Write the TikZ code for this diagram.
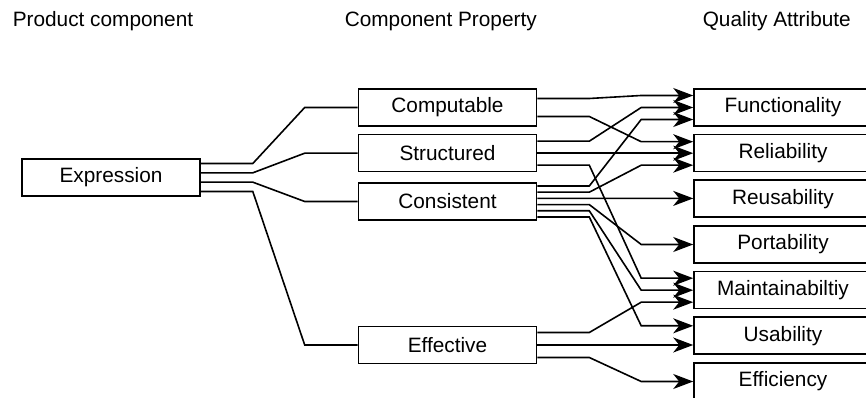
\documentclass[tikz,border=0pt]{standalone}
\usepackage{fontspec}
\setmainfont{Liberation Sans}
\usetikzlibrary{arrows.meta}

\begin{document}
\begin{tikzpicture}[x=1pt,y=1pt,line width=1.6pt,
	box/.style={draw,rectangle,minimum width=178pt,minimum height=37pt,inner sep=0pt,font=\fontsize{20.8}{24}\selectfont},
	heading/.style={anchor=base west,inner sep=0pt,font=\fontsize{20.8}{24}\selectfont},
	arr/.style={-{Stealth[length=20pt,width=15pt,inset=6pt]}}]
	\clip (0,0) rectangle (866,398);
	% headings
	\node[heading] (hprod) at (12,371) {Product component};
	\node[heading] (hprop) at (344,371) {Component Property};
	\node[heading] (hqual) at (702,371) {Quality Attribute};
	% boxes
	\node[box] (expr) at (111,220.5) {Expression};
	\node[box] (comp) at (447.5,290.5) {Computable};
	\node[box] (struc) at (447.5,244.8) {Structured};
	\node[box] (cons) at (447.5,196.5) {Consistent};
	\node[box] (eff) at (447.5,53) {Effective};
	\node[box] (func) at (783,290.5) {Functionality};
	\node[box] (rel) at (783,244.8) {Reliability};
	\node[box] (reus) at (783,199.2) {Reusability};
	\node[box] (port) at (783,153.5) {Portability};
	\node[box] (maint) at (783,107.8) {Maintainabiltiy};
	\node[box] (usab) at (783,62.2) {Usability};
	\node[box] (effic) at (783,16.5) {Efficiency};
	% expression -> properties
	\draw ([yshift=14pt]expr.east) -- ++(52,0) -- ([xshift=-53pt]comp.west) -- (comp.west);
	\draw ([yshift=4.67pt]expr.east) -- ++(52,0) -- ([xshift=-53pt]struc.west) -- (struc.west);
	\draw ([yshift=-4.67pt]expr.east) -- ++(52,0) -- ([xshift=-53pt]cons.west) -- (cons.west);
	\draw ([yshift=-14pt]expr.east) -- ++(52,0) -- ([xshift=-53pt]eff.west) -- (eff.west);
	% properties -> attributes
	\draw[arr] ([yshift=9pt]comp.east) -- ++(52,0) -- ([xshift=-52pt,yshift=12pt]func.west) -- ([yshift=12pt]func.west);
	\draw[arr] ([yshift=-9pt]comp.east) -- ++(52,0) -- ([xshift=-52pt,yshift=11.5pt]rel.west) -- ([yshift=11.5pt]rel.west);
	\draw[arr] ([yshift=12pt]struc.east) -- ++(52,0) -- ([xshift=-52pt]func.west) -- (func.west);
	\draw[arr] (struc.east) -- (rel.west);
	\draw[arr] ([yshift=-12pt]struc.east) -- ++(52,0) -- ([xshift=-52pt,yshift=12pt]maint.west) -- ([yshift=12pt]maint.west);
	\draw[arr] ([yshift=15.5pt]cons.east) -- ++(52,0) -- ([xshift=-52pt,yshift=-12pt]func.west) -- ([yshift=-12pt]func.west);
	\draw[arr] ([yshift=9.3pt]cons.east) -- ++(52,0) -- ([xshift=-52pt,yshift=-12pt]rel.west) -- ([yshift=-12pt]rel.west);
	\draw[arr] ([yshift=3.1pt]cons.east) -- ([yshift=0.4pt]reus.west);
	\draw[arr] ([yshift=-3.1pt]cons.east) -- ++(52,0) -- ([xshift=-52pt]port.west) -- (port.west);
	\draw[arr] ([yshift=-9.3pt]cons.east) -- ++(52,0) -- ([xshift=-52pt]maint.west) -- (maint.west);
	\draw[arr] ([yshift=-15.5pt]cons.east) -- ++(52,0) -- ([xshift=-52pt,yshift=10pt]usab.west) -- ([yshift=10pt]usab.west);
	\draw[arr] ([yshift=12.5pt]eff.east) -- ++(52,0) -- ([xshift=-52pt,yshift=-12pt]maint.west) -- ([yshift=-12pt]maint.west);
	\draw[arr] (eff.east) -- ([yshift=-9.2pt]usab.west);
	\draw[arr] ([yshift=-12.5pt]eff.east) -- ++(52,0) -- ([xshift=-52pt]effic.west) -- (effic.west);
\end{tikzpicture}
\end{document}
